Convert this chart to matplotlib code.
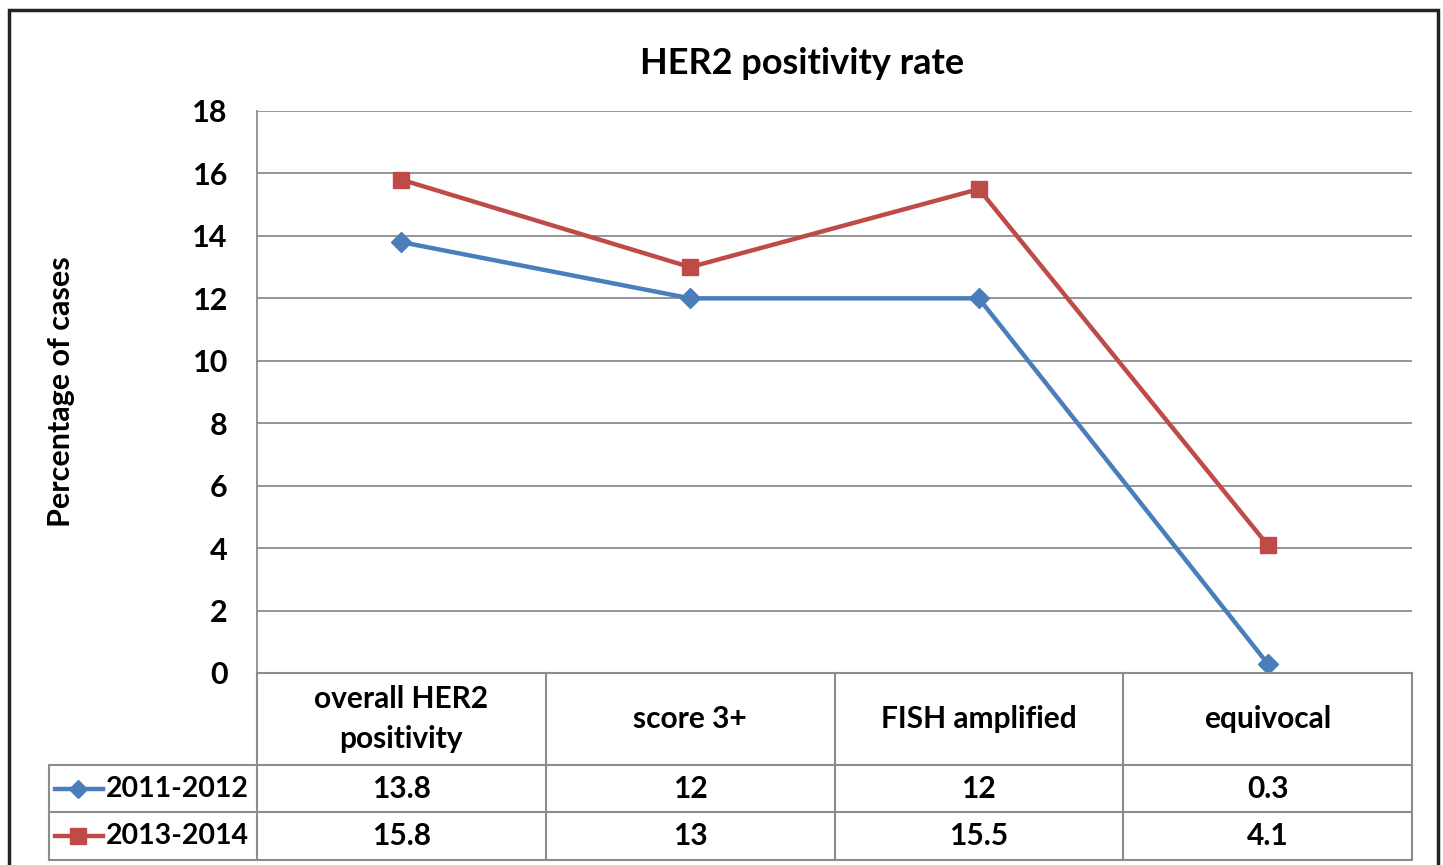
import matplotlib
matplotlib.use('Agg')
import matplotlib.pyplot as plt
from matplotlib.patches import Rectangle

plt.rcParams['font.family'] = ['Lato', 'DejaVu Sans']
plt.rcParams['font.weight'] = 'bold'

# 데이터
categories = ['overall HER2\npositivity', 'score 3+', 'FISH amplified', 'equivocal']
series_names = ['2011-2012', '2013-2014']
vals_2011 = [13.8, 12, 12, 0.3]
vals_2013 = [15.8, 13, 15.5, 4.1]
val_labels_2011 = ['13.8', '12', '12', '0.3']
val_labels_2013 = ['15.8', '13', '15.5', '4.1']
yticks = [0, 2, 4, 6, 8, 10, 12, 14, 16, 18]

BLUE = '#4A7EBB'
RED = '#BE4B48'
GRID = '#8C8C8C'
FS = 21.5  # 테이블 글자 크기

W, H = 1443, 865
fig = plt.figure(figsize=(W / 100, H / 100), dpi=100)


def fx(px):
    return px / W


def fy(py):
    return 1 - py / H


# 바깥 테두리
fig.add_artist(Rectangle((fx(9), fy(880)), fx(1438) - fx(9), fy(10) - fy(880),
                         transform=fig.transFigure, fill=False, edgecolor='#222222', lw=2.5))

# 그래프 영역
ax = fig.add_axes([fx(257), fy(673), fx(1412) - fx(257), fy(111) - fy(673)])
ax.set_xlim(-0.5, len(categories) - 0.5)
ax.set_ylim(0, 18)
ax.set_yticks(yticks)
ax.set_yticklabels([str(t) for t in yticks], fontsize=22, fontweight='bold')
ax.tick_params(axis='y', length=0, pad=21)
ax.set_xticks([])
ax.grid(axis='y', color=GRID, lw=1.3)
ax.set_axisbelow(True)
for s in ['top', 'right', 'bottom']:
    ax.spines[s].set_visible(False)
ax.spines['left'].set_color(GRID)
ax.spines['left'].set_linewidth(1.3)

x = range(len(categories))
ax.plot(x, vals_2011, color=BLUE, lw=3.2, marker='D', ms=10, zorder=3)
ax.plot(x, vals_2013, color=RED, lw=3.2, marker='s', ms=12, zorder=4)

fig.text(fx(802), fy(63), 'HER2 positivity rate', ha='center', va='center',
         fontsize=26, fontweight='bold')
fig.text(fx(61), fy(392), 'Percentage of cases', ha='center', va='center',
         rotation=90, fontsize=22, fontweight='bold')

# 데이터 테이블
tab = fig.add_axes([fx(49), fy(860), fx(1412) - fx(49), fy(673) - fy(860)])
col_px = (1412 - 257) / len(categories)
left_w = (257 - 49) / col_px
tab.set_xlim(-0.5 - left_w, len(categories) - 0.5)
tab.set_ylim(860, 673)
tab.axis('off')

lk = dict(color=GRID, lw=1.5, clip_on=False)
x0, x1 = -0.5 - left_w, len(categories) - 0.5
for yy in [765, 812, 860]:
    tab.plot([x0, x1], [yy, yy], **lk)
tab.plot([-0.5, x1], [673, 673], **lk)
tab.plot([x0, x0], [765, 860], **lk)
for i in range(len(categories) + 1):
    tab.plot([i - 0.5, i - 0.5], [673, 860], **lk)

for i, c in enumerate(categories):
    tab.text(i, 719, c, ha='center', va='center', fontsize=FS, fontweight='bold',
             linespacing=1.5)
    tab.text(i, 789, val_labels_2011[i], ha='center', va='center', fontsize=FS,
             fontweight='bold')
    tab.text(i, 836, val_labels_2013[i], ha='center', va='center', fontsize=FS,
             fontweight='bold')

# 범례 키
for yy, col, mk, ms, name in [(789, BLUE, 'D', 9, series_names[0]),
                              (836, RED, 's', 12, series_names[1])]:
    xa = x0 + 6 / col_px
    xb = x0 + 54 / col_px
    xm = x0 + 29 / col_px
    tab.plot([xa, xb], [yy, yy], color=col, lw=3.2, clip_on=False)
    tab.plot([xm], [yy], color=col, marker=mk, ms=ms, clip_on=False)
    tab.text(x0 + 57 / col_px, yy, name, ha='left', va='center', fontsize=20.5,
             fontweight='bold')

fig.savefig('out.png', dpi=100)
